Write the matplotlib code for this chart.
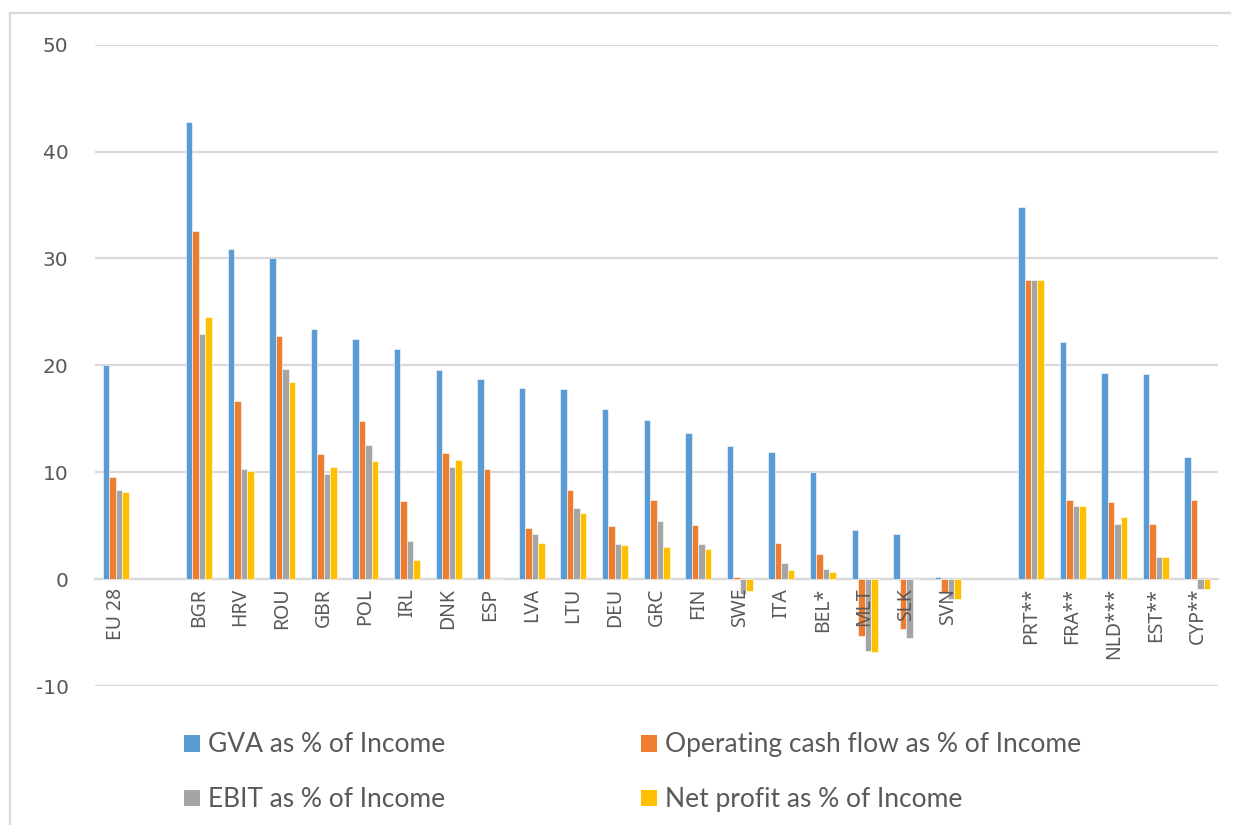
import matplotlib
matplotlib.use("Agg")
import matplotlib.pyplot as plt
import numpy as np
from matplotlib.lines import Line2D
from matplotlib.patches import Patch

plt.rcParams["font.family"] = ["Noto Sans", "DejaVu Sans"]
plt.rcParams["axes.unicode_minus"] = False

# Countries (empty strings are spacer slots between groups)
countries = ["EU 28", "", "BGR", "HRV", "ROU", "GBR", "POL", "IRL", "DNK", "ESP",
             "LVA", "LTU", "DEU", "GRC", "FIN", "SWE", "ITA", "BEL*", "MLT", "SLK",
             "SVN", "", "PRT**", "FRA**", "NLD***", "EST**", "CYP**"]

gva = [20.0, np.nan, 42.8, 30.9, 30.0, 23.4, 22.5, 21.5, 19.6, 18.75,
       17.9, 17.8, 15.95, 14.9, 13.7, 12.5, 11.95, 10.0, 4.6, 4.25,
       0.2, np.nan, 34.8, 22.2, 19.3, 19.2, 11.45]
ocf = [9.55, np.nan, 32.6, 16.7, 22.8, 11.7, 14.8, 7.3, 11.8, 10.35,
       4.85, 8.33, 4.97, 7.4, 5.1, 0.2, 3.45, 2.36, -5.3, -4.6,
       -1.3, np.nan, 28.0, 7.45, 7.25, 5.2, 7.4]
ebit = [8.33, np.nan, 22.9, 10.35, 19.7, 9.9, 12.6, 3.57, 10.5, 0.0,
        4.25, 6.65, 3.3, 5.45, 3.3, -1.35, 1.52, 0.93, -6.7, -5.5,
        -1.8, np.nan, 28.0, 6.9, 5.2, 2.1, -0.9]
net = [8.2, np.nan, 24.5, 10.1, 18.5, 10.5, 11.1, 1.77, 11.2, 0.0,
       3.4, 6.2, 3.2, 3.07, 2.8, -1.1, 0.9, 0.68, -6.8, 0.0,
       -1.8, np.nan, 28.0, 6.9, 5.8, 2.1, -0.9]

series_labels = ["GVA as % of Income", "Operating cash flow as % of Income",
                 "EBIT as % of Income", "Net profit as % of Income"]
colors = ["#5B9BD5", "#ED7D31", "#A5A5A5", "#FFC000"]

fig = plt.figure(figsize=(12.33, 8.25), dpi=100)
ax = fig.add_axes([0.077, 0.168, 0.911, 0.778])

x = np.arange(len(countries))
bw = 0.156
offsets = (np.arange(4) - 1.5) * bw
for vals, off, c in zip([gva, ocf, ebit, net], offsets, colors):
    ax.bar(x + off, vals, width=bw, color=c, edgecolor="white",
           linewidth=0.4, zorder=3)

ax.set_xlim(-0.5, len(countries) - 0.5)
ax.set_ylim(-10, 50)
ax.set_yticks(np.arange(-10, 51, 10))
ax.grid(axis="y", color="#d9d9d9", linewidth=1.6, zorder=0)
ax.set_axisbelow(True)
# country labels sit on top of the negative bars
ax.xaxis.set_zorder(4)

for s in ["top", "right", "left"]:
    ax.spines[s].set_visible(False)
ax.spines["bottom"].set_position(("data", 0))
ax.spines["bottom"].set_color("#d9d9d9")
ax.spines["bottom"].set_linewidth(1.6)
ax.spines["bottom"].set_zorder(1)

ax.set_xticks(x)
ax.set_xticklabels(countries, rotation=90, va="top", ha="center",
                   fontsize=14, color="#595959")
ax.tick_params(axis="x", length=0, pad=6)
ax.tick_params(axis="y", length=0, pad=19, labelsize=14.5, labelcolor="#595959")
for lab in ax.get_yticklabels():
    lab.set_fontfamily("DejaVu Sans")

handles = [Patch(facecolor=colors[i]) for i in [0, 2, 1, 3]]
labels = [series_labels[i] for i in [0, 2, 1, 3]]
leg = fig.legend(handles, labels, ncol=2, loc="upper left",
                 bbox_to_anchor=(0.130, 0.141), frameon=False,
                 prop={"family": "Lato", "size": 19},
                 handlelength=0.6, handleheight=0.6, handletextpad=0.32,
                 columnspacing=7.4, labelspacing=1.13, labelcolor="#595959")

# Chart-area frame edges
fig.add_artist(Line2D([10 / 1233, 10 / 1233], [0, 1 - 13 / 825],
                      transform=fig.transFigure, color="#d9d9d9", linewidth=1.6))
fig.add_artist(Line2D([10 / 1233, 1230 / 1233], [1 - 13 / 825, 1 - 13 / 825],
                      transform=fig.transFigure, color="#d9d9d9", linewidth=1.6))

fig.savefig("out.png", dpi=100, facecolor="white")
